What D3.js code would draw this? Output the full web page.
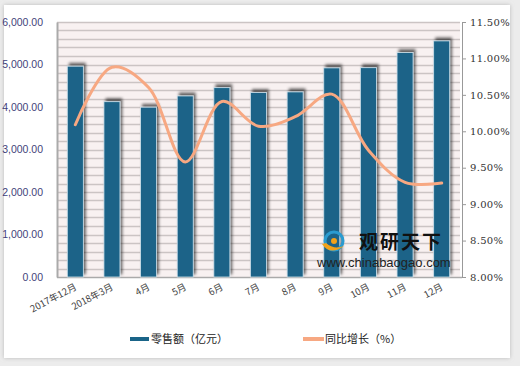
<!DOCTYPE html>
<html>
<head>
<meta charset="utf-8">
<script src="https://cdn.jsdelivr.net/npm/d3@7"></script>
<style>
  body { margin: 0; background: #e9e9e9; }
  svg { display: block; }
</style>
</head>
<body>
<div id="chart"></div>
<script>
// 数据
var months = ['2017年12月', '2018年3月', '4月', '5月', '6月', '7月', '8月', '9月', '10月', '11月', '12月']
var sales = [4960, 4125, 3995, 4260, 4455, 4340, 4355, 4920, 4925, 5280, 5555]   // 零售额（亿元）
var growth = [10.09, 10.88, 10.6, 9.58, 10.41, 10.07, 10.2, 10.51, 9.74, 9.3, 9.29] // 同比增长（%）
var leftTicks = [0, 1000, 2000, 3000, 4000, 5000, 6000]
var rightTicks = [8, 8.5, 9, 9.5, 10, 10.5, 11, 11.5]

var W = 520, H = 366
var m = {left: 57, right: 460, top: 22, bottom: 277}

var svg = d3.select('#chart').append('svg')
  .attr('width', W)
  .attr('height', H)

var defs = svg.append('defs')
var f = defs.append('filter').attr('id', 'shadow')
  .attr('x', '-50%').attr('y', '-20%').attr('width', '200%').attr('height', '140%')
f.append('feGaussianBlur').attr('in', 'SourceAlpha').attr('stdDeviation', 1.6)
f.append('feOffset').attr('dx', 2).attr('dy', -3).attr('result', 'off')
f.append('feComponentTransfer').append('feFuncA').attr('type', 'linear').attr('slope', 0.6)
var fm = f.append('feMerge')
fm.append('feMergeNode')
fm.append('feMergeNode').attr('in', 'SourceGraphic')

var boxF = defs.append('filter').attr('id', 'boxshadow')
boxF.append('feDropShadow').attr('dx', 0).attr('dy', 0).attr('stdDeviation', 2)
  .attr('flood-color', '#999').attr('flood-opacity', 0.6)

// 外框
svg.append('rect').attr('x', 0).attr('y', 0).attr('width', W).attr('height', H).attr('fill', '#ececec')
svg.append('rect')
  .attr('x', 4).attr('y', 5).attr('width', 506).attr('height', 353)
  .attr('fill', 'white')
  .attr('filter', 'url(#boxshadow)')

//比例尺
var x = d3.scaleBand().domain(months).range([m.left, m.right]).paddingInner(0).paddingOuter(0)
var yL = d3.scaleLinear().domain([0, 6000]).range([m.bottom, m.top])
var yR = d3.scaleLinear().domain([8, 11.5]).range([m.bottom, m.top])

// 绘图区背景
svg.append('rect')
  .attr('x', m.left).attr('y', m.top)
  .attr('width', m.right - m.left).attr('height', m.bottom - m.top)
  .attr('fill', '#f8f1f1')

// 网格线 每200一条
svg.append('g').selectAll('line')
  .data(d3.range(200, 6001, 200))
  .enter().append('line')
  .attr('x1', m.left).attr('x2', m.right)
  .attr('y1', d => Math.round(yL(d)) + 0.5)
  .attr('y2', d => Math.round(yL(d)) + 0.5)
  .attr('stroke', '#cbc4c4')
  .attr('stroke-width', 1.3)

// 左轴
var axisL = svg.append('g')
  .attr('transform', 'translate(' + m.left + ',0)')
  .call(d3.axisLeft(yL).tickValues(leftTicks).tickSize(0).tickPadding(14).tickFormat(d3.format(',.2f')))
axisL.select('.domain').attr('stroke', '#aaa').attr('stroke-width', 2)
axisL.selectAll('text')
  .style('font-family', 'Arial, "Liberation Sans", sans-serif')
  .style('font-size', '10.5px')
  .attr('fill', '#3f3f7a')

// 右轴
var axisR = svg.append('g')
  .attr('transform', 'translate(' + (m.right + 2) + ',0)')
  .call(d3.axisRight(yR).tickValues(rightTicks).tickSize(4).tickPadding(4).tickFormat(d => d3.format('.2f')(d) + '%'))
axisR.select('.domain').attr('stroke', '#999')
axisR.selectAll('.tick line').attr('stroke', '#999')
axisR.selectAll('text')
  .style('font-family', '"DejaVu Serif", serif')
  .style('font-size', '10px')
  .attr('letter-spacing', '0.3px')
  .attr('fill', '#333')

// 底部轴线
svg.append('line')
  .attr('x1', m.left).attr('x2', m.right + 2)
  .attr('y1', m.bottom + 0.5).attr('y2', m.bottom + 0.5)
  .attr('stroke', '#aaa').attr('stroke-width', 1.5)

// 柱子
var bw = 16
svg.append('g').selectAll('rect')
  .data(sales)
  .enter().append('rect')
  .attr('x', (d, i) => x(months[i]) + x.bandwidth() / 2 - bw / 2)
  .attr('y', d => yL(d))
  .attr('width', bw)
  .attr('height', d => m.bottom - yL(d))
  .attr('fill', '#1a6488')
  .attr('stroke', '#cfe0ea')
  .attr('stroke-width', 0.8)
  .attr('filter', 'url(#shadow)')

// 水印
var wm = svg.append('g')
wm.append('circle').attr('cx', 334).attr('cy', 241).attr('r', 9).attr('fill', 'none')
  .attr('stroke', '#2a9bd0').attr('stroke-width', 3)
wm.append('path').attr('d', 'M322,244 Q330,256 344,246 Q334,250 326,243 Z').attr('fill', '#f2a21a')
wm.append('circle').attr('cx', 334).attr('cy', 241).attr('r', 3).attr('fill', '#f2a21a')
wm.append('text').attr('x', 359).attr('y', 249)
  .text('观研天下')
  .style('font-family', '"Noto Sans CJK SC", sans-serif')
  .style('font-weight', 'bold')
  .style('font-size', '19px')
  .attr('fill', '#111')
  .attr('letter-spacing', '2px')
wm.append('text').attr('x', 317).attr('y', 267)
  .text('www.chinabaogao.com')
  .style('font-family', 'Arial, "Liberation Sans", sans-serif')
  .style('font-size', '13px')
  .attr('fill', '#222')

// 折线
var line = d3.line()
  .x((d, i) => x(months[i]) + x.bandwidth() / 2)
  .y(d => yR(d))
  .curve(d3.curveCatmullRom.alpha(0.5))

svg.append('path')
  .datum(growth)
  .attr('d', line)
  .attr('fill', 'none')
  .attr('stroke', '#f7a882')
  .attr('stroke-width', 3)
  .attr('stroke-linecap', 'round')

// x轴标签
svg.append('g').selectAll('text')
  .data(months)
  .enter().append('text')
  .attr('transform', d => 'translate(' + (x(d) + x.bandwidth() / 2 + 2) + ',' + (m.bottom + 12) + ') rotate(-28)')
  .attr('text-anchor', 'end')
  .style('font-family', '"Noto Sans CJK SC", serif')
  .style('font-size', '9.5px')
  .attr('fill', '#444')
  .text(d => d)

// 图例
var lg = svg.append('g')
lg.append('line').attr('x1', 130).attr('x2', 149).attr('y1', 339).attr('y2', 339)
  .attr('stroke', '#1a6488').attr('stroke-width', 4)
lg.append('text').attr('x', 151).attr('y', 343).text('零售额（亿元）')
  .style('font-family', '"Noto Sans CJK SC", sans-serif').style('font-size', '11px').attr('fill', '#222')
lg.append('line').attr('x1', 303).attr('x2', 324).attr('y1', 339).attr('y2', 339)
  .attr('stroke', '#f7a882').attr('stroke-width', 4)
lg.append('text').attr('x', 325).attr('y', 343).text('同比增长（%）')
  .style('font-family', '"Noto Sans CJK SC", sans-serif').style('font-size', '11px').attr('fill', '#222')
</script>
</body>
</html>
